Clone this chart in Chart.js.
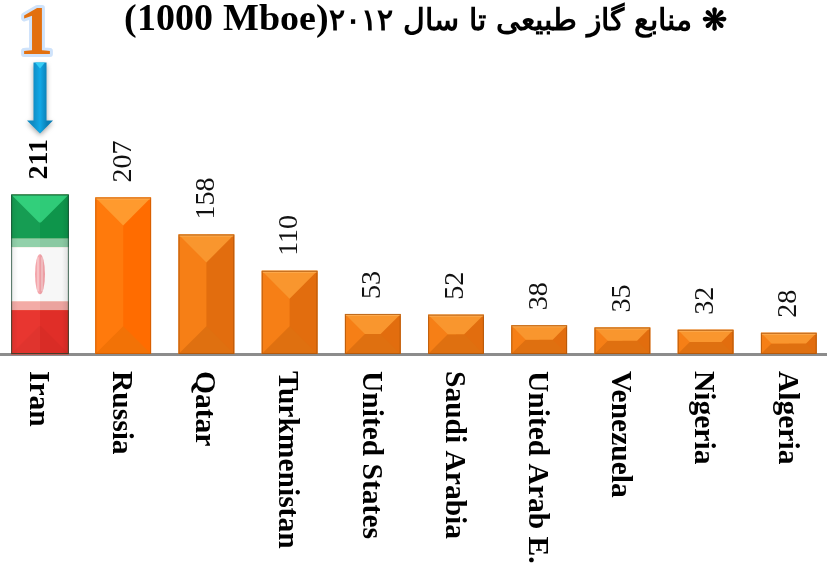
<!DOCTYPE html>
<html><head><meta charset="utf-8">
<style>html,body{margin:0;padding:0;background:#fff;overflow:hidden}#w{width:827px;height:564px;position:relative}
@font-face{font-family:"TitleLatin";src:local("Liberation Serif Bold"),local("LiberationSerif-Bold");font-weight:bold;size-adjust:127%;unicode-range:U+0020-007E}
</style>
<script src="https://cdn.jsdelivr.net/npm/chart.js@4"></script></head>
<body><div id="w"><canvas id="c" width="827" height="564"></canvas></div>
<script>
const categories=["Iran","Russia","Qatar","Turkmenistan","United States","Saudi Arabia","United Arab E.","Venezuela","Nigeria","Algeria"];
const reserves=[211,207,158,110,53,52,38,35,32,28];
const chartTitle="(1000 Mboe)\u202B\u274B منابع گاز طبیعی تا سال ٢٠١٢\u202C";
const rankLabel="1";
const SERIF='"Liberation Serif","Times New Roman",serif';
const palette={
 bright:{top:"#ff9a2e",left:"#ff7a0c",right:"#ff6c00",bottom:"#f27206",edge:"#c85a00"},
 normal:{top:"#f9962e",left:"#f67f16",right:"#e26d0e",bottom:"#df7010",edge:"#a85208"},
 iran:{top:"rgba(70,240,150,.6)",left:"rgba(255,255,255,.03)",right:"rgba(0,0,0,.03)",bottom:"rgba(0,0,0,.03)",edge:"#12402a"}
};
function poly(ctx,pts,fill){ctx.beginPath();pts.forEach((p,i)=>i?ctx.lineTo(p[0],p[1]):ctx.moveTo(p[0],p[1]));ctx.closePath();ctx.fillStyle=fill;ctx.fill();}
function drawFlag(ctx,l,t,w,h){
 const g=[[0,.275,"#0f9a4e"],[.275,.33,"#8fd0a8"],[.33,.67,"#ffffff"],[.67,.725,"#f3a9a4"],[.725,1,"#e8302a"]];
 g.forEach(s=>{ctx.fillStyle=s[2];ctx.fillRect(l,t+h*s[0],w,h*(s[1]-s[0])+.5);});
 const sh=ctx.createLinearGradient(l,0,l+w,0);
 sh.addColorStop(0,"rgba(0,0,0,.08)");sh.addColorStop(.12,"rgba(0,0,0,0)");sh.addColorStop(.88,"rgba(0,0,0,0)");sh.addColorStop(1,"rgba(0,0,0,.1)");
 ctx.fillStyle=sh;ctx.fillRect(l,t,w,h);
 ctx.fillStyle="rgba(235,90,100,.55)";ctx.beginPath();ctx.ellipse(l+w/2,t+h*.5,5,20,0,0,Math.PI*2);ctx.fill();
 ctx.fillStyle="rgba(255,255,255,.6)";ctx.fillRect(l+w/2-2.5,t+h*.5-17,1,34);ctx.fillRect(l+w/2+1.5,t+h*.5-17,1,34);
}
function drawArrowAndRank(ctx,cx,barTop){
 const b=barTop-61, a=barTop-132;
 ctx.save();
 ctx.shadowColor="rgba(0,0,0,.35)";ctx.shadowBlur=5;ctx.shadowOffsetY=2;
 const gr=ctx.createLinearGradient(cx-7,0,cx+7,0);
 gr.addColorStop(0,"#0f8cc4");gr.addColorStop(.5,"#12a8e6");gr.addColorStop(1,"#0b7fb6");
 poly(ctx,[[cx-6.5,a],[cx+6.5,a],[cx+6.5,b-13],[cx+13,b-13],[cx,b],[cx-13,b-13],[cx-6.5,b-13]],gr);
 ctx.restore();
 poly(ctx,[[cx-5,a],[cx+5,a],[cx,a+6]],"#35cdf5");
 ctx.save();
 ctx.font='bold 70px '+SERIF;ctx.textAlign="center";ctx.textBaseline="alphabetic";
 ctx.lineJoin="round";ctx.strokeStyle="#cfe3fb";ctx.lineWidth=6;
 ctx.strokeText(rankLabel,cx-4,barTop-140);
 ctx.fillStyle="#e3700f";ctx.fillText(rankLabel,cx-4,barTop-140);
 ctx.restore();
}
const bevelPlugin={id:"bevel",
 afterLayout(chart){
  const t=chart.titleBlock;if(t){t.left+=12;t.right+=12;}
  const s=chart.scales.x;s.left=-1.6;s.right=830.4;s.width=832;s.configure();
  s._getXAxisLabelAlignment=()=>"left";
  if(!s._labelShift){
   const orig=s._computeLabelItems;
   s._computeLabelItems=function(area){const items=orig.call(this,area);items.forEach(it=>{it.options.translation=[it.options.translation[0]-2.5,it.options.translation[1]];});return items;};
   s._labelShift=true;
  }
 },
 afterDatasetsDraw(chart){
 const ctx=chart.ctx,meta=chart.getDatasetMeta(0);
 meta.data.forEach((el,i)=>{
  const p=el.getProps(["x","y","base","width"],true);
  const grow=i===0?1:0;
  const l=p.x-p.width/2-grow,r=p.x+p.width/2+grow,t=p.y,b=p.base,w=r-l,h=b-t;
  const pal=i===0?palette.iran:(i===1?palette.bright:palette.normal);
  const d=Math.min(w/2,h/2,28),apexT=t+d,apexB=b-d;
  ctx.save();
  if(i===0)drawFlag(ctx,l,t,w,h);
  poly(ctx,[[l,t],[p.x,t],[p.x,b],[l,b]],pal.left);
  poly(ctx,[[p.x,t],[r,t],[r,b],[p.x,b]],pal.right);
  poly(ctx,[[l,b],[r,b],[r-d,apexB],[l+d,apexB]],pal.bottom);
  poly(ctx,[[l,t],[r,t],[r-d,apexT],[l+d,apexT]],pal.top);
  if(i!==0){ctx.fillStyle="rgba(255,190,110,.55)";ctx.fillRect(l,t,w,2);}
  ctx.strokeStyle=pal.edge;ctx.globalAlpha=.75;ctx.lineWidth=1;ctx.strokeRect(l+.5,t+.5,w-1,h-1);
  ctx.restore();
  ctx.save();
  ctx.translate(p.x,t-15);ctx.rotate(-Math.PI/2);
  ctx.font=(i===0?"bold ":"")+'28px '+SERIF;ctx.fillStyle=i===0?"#000":"#111";
  ctx.textAlign="left";ctx.textBaseline="middle";
  ctx.fillText(String(reserves[i]),0,0);
  ctx.restore();
  if(i===0)drawArrowAndRank(ctx,p.x,t);
 });
}};
function build(){new Chart(document.getElementById("c"),{
 type:"bar",
 data:{labels:categories,datasets:[{data:reserves,backgroundColor:"#f97f14",borderWidth:0,barPercentage:.67,categoryPercentage:1}]},
 plugins:[bevelPlugin],
 options:{
  responsive:false,animation:false,
  layout:{padding:0},
  plugins:{legend:{display:false},tooltip:{enabled:false},
   title:{display:true,text:chartTitle,color:"#000",align:"center",font:{family:'TitleLatin,'+SERIF,size:30,weight:"bold",lineHeight:1.2},padding:{top:2,bottom:0}}},
  scales:{
   x:{grid:{display:false,drawTicks:false},border:{color:"#8c8c8c",width:3},
      afterFit(s){s.height=210;s.paddingLeft=0;s.paddingRight=0;},
      ticks:{minRotation:-90,maxRotation:-90,autoSkip:false,padding:17,color:"#000",font:{family:SERIF,size:29.5,weight:"bold"}}},
   y:{display:false,min:0,max:418,beginAtZero:true}
  }
 }
});}
document.fonts.load('bold 30px TitleLatin','M').then(build,build);
</script></body></html>
